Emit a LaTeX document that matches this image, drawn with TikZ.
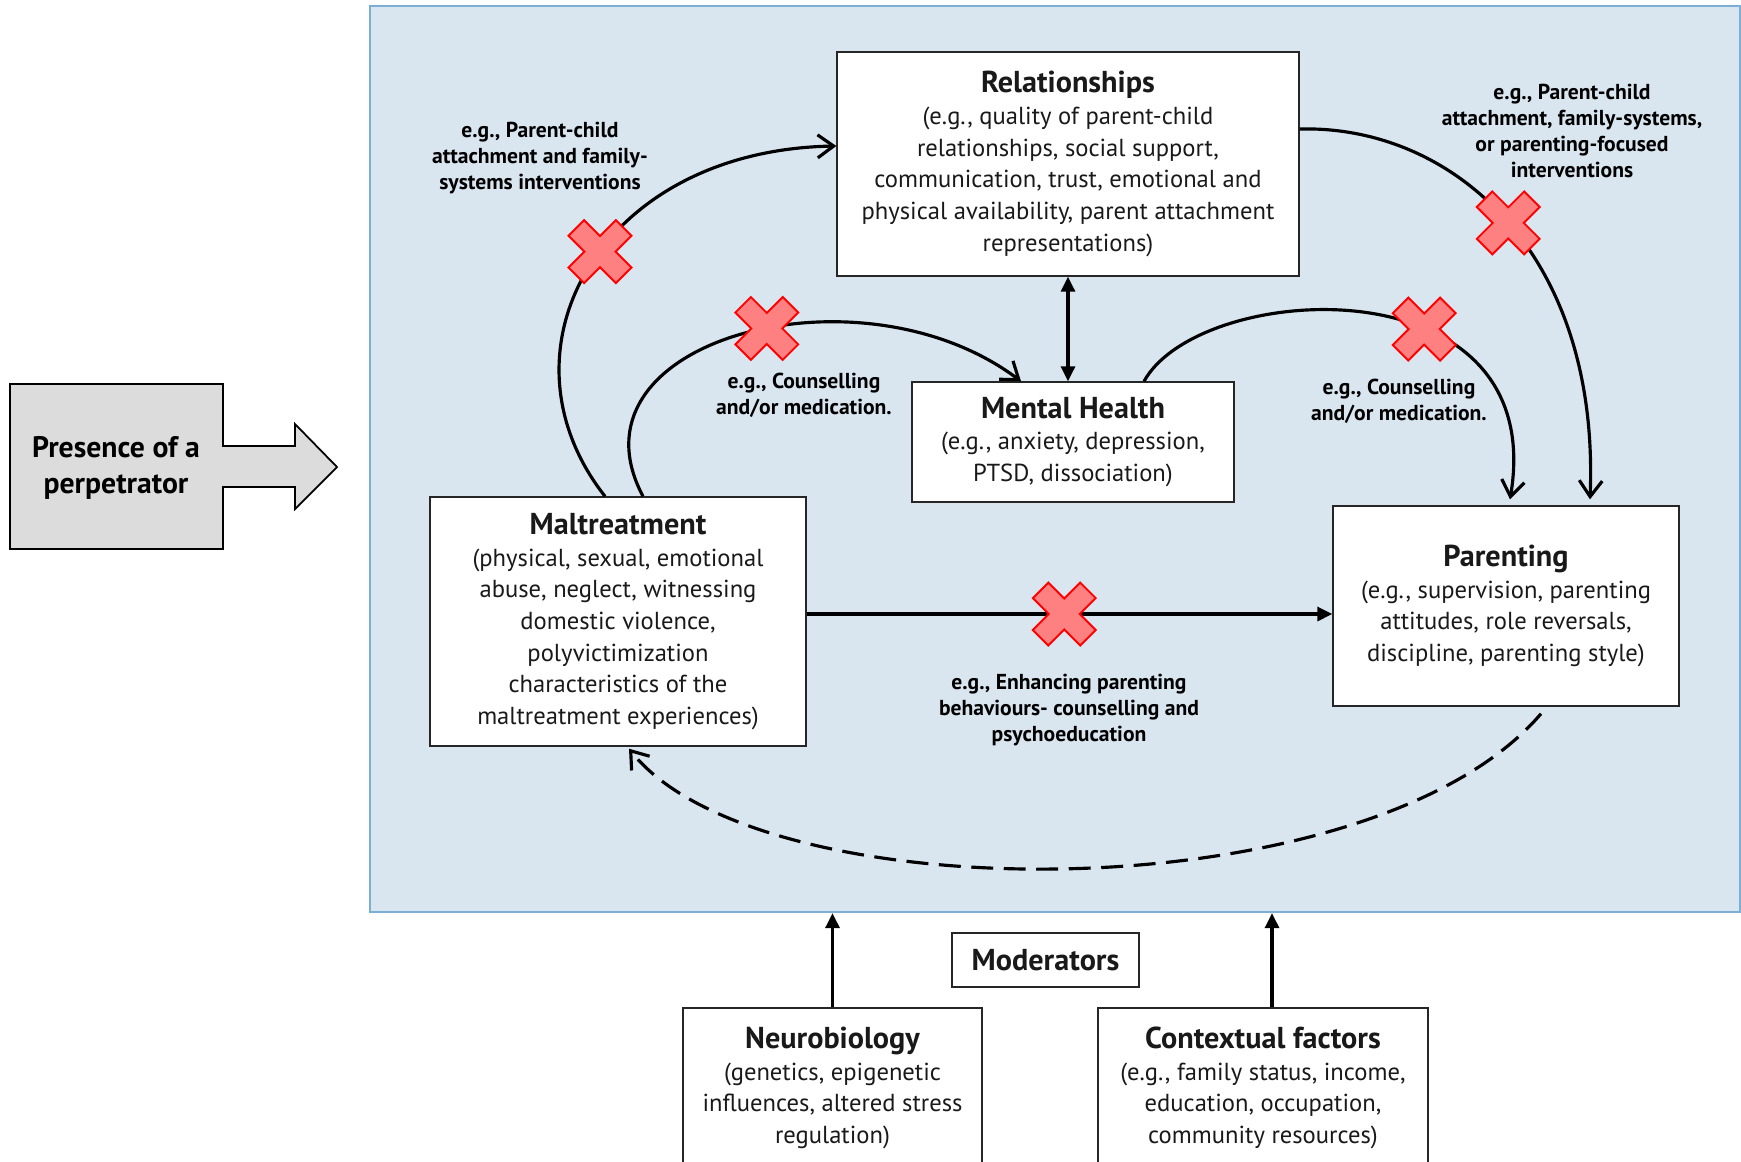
\documentclass[tikz,border=0pt]{standalone}
\usepackage{fontspec}
\setmainfont{PT Sans}
\usetikzlibrary{arrows.meta,calc}

\definecolor{panelfill}{HTML}{D9E6F0}
\definecolor{panelline}{HTML}{7BAFD4}
\definecolor{perpgray}{HTML}{DCDCDC}
\definecolor{xfill}{HTML}{FF8080}
\definecolor{xline}{HTML}{FF0000}

\def\bodyfont{\fontsize{14}{18}\selectfont}
\def\ttlfont{\fontsize{17.2}{18}\selectfont\bfseries}
\def\lblfont{\fontsize{12.3}{14.7}\selectfont\bfseries}
\def\ttl#1{{\ttlfont #1}}
\def\nogo#1{\draw[xmark,shift={(#1)},rotate=45] (11,11) -- (33.5,11) -- (33.5,-11) -- (11,-11) -- (11,-33.5) -- (-11,-33.5) -- (-11,-11) -- (-33.5,-11) -- (-33.5,11) -- (-11,11) -- (-11,33.5) -- (11,33.5) -- cycle;}

\begin{document}
\begin{tikzpicture}[x=0.02cm,y=-0.02cm,
    box/.style={draw=black!85, line width=0.8pt, fill=white, align=center,
        inner sep=0pt, font=\bodyfont, text=black!90},
    lbl/.style={align=center, font=\lblfont},
    flow/.style={line width=1.8pt, -{Straight Barb[length=0.32cm,width=0.46cm]}},
    push/.style={line width=1.8pt, -{Triangle[length=0.3cm,width=0.28cm]}},
    both/.style={line width=1.8pt, {Triangle[length=0.3cm,width=0.28cm]}-{Triangle[length=0.3cm,width=0.28cm]}},
    xmark/.style={draw=xline, fill=xfill, line width=1.1pt, line join=miter},
    ]
    \useasboundingbox (0,0) rectangle (1741,1161);
    \clip (0,0) rectangle (1741,1161);

    % background panel
    \node[draw=panelline, line width=1.4pt, fill=panelfill, inner sep=0pt,
        minimum width=27.4cm, minimum height=18.12cm] (panel) at (1055,459) {};

    % perpetrator arrow
    \draw[fill=perpgray, line width=1pt] (10,384) -- (223,384) -- (223,446) -- (295,446)
        -- (295,424) -- (337,467) -- (295,509) -- (295,487) -- (223,487) -- (223,549)
        -- (10,549) -- cycle;
    \node[align=center, font=\fontsize{16.9}{20.4}\selectfont\bfseries] (perp) at (116,468)
        {Presence of a\\perpetrator};

    % boxes
    \node[box, minimum width=9.24cm, minimum height=4.48cm] (rel) at (1068,164)
        {\ttl{Relationships}\\(e.g., quality of parent-child\\relationships, social support,\\communication, trust, emotional and\\physical availability, parent attachment\\representations)};
    \node[box, minimum width=6.44cm, minimum height=2.4cm] (mh) at (1073,442)
        {\ttl{Mental Health}\\(e.g., anxiety, depression,\\PTSD, dissociation)};
    \node[box, minimum width=7.52cm, minimum height=4.98cm] (mal) at (618,621.5)
        {\ttl{Maltreatment}\\(physical, sexual, emotional\\abuse, neglect, witnessing\\domestic violence,\\polyvictimization\\characteristics of the\\maltreatment experiences)};
    \node[box, minimum width=6.92cm, minimum height=4cm] (par) at (1506,606)
        {\ttl{Parenting}\\(e.g., supervision, parenting\\attitudes, role reversals,\\discipline, parenting style)};
    \node[box, minimum width=3.74cm, minimum height=1.08cm] (mod) at (1045.5,960)
        {\ttl{Moderators}};
    \node[box, minimum width=5.98cm, minimum height=3.2cm] (neu) at (832.5,1088)
        {\ttl{Neurobiology}\\(genetics, epigenetic\\influences, altered stress\\regulation)};
    \node[box, minimum width=6.6cm, minimum height=3.2cm] (con) at (1263,1088)
        {\ttl{Contextual factors}\\(e.g., family status, income,\\education, occupation,\\community resources)};

    % pathways
    \draw[flow] ($(mal.north)+(-13,0)$) .. controls (490,350) and (600,150) .. ($(rel.west)+(0,-18)$) coordinate[pos=0.54] (xa);
    \draw[flow] ($(mal.north)+(25,0)$) .. controls (560,340) and (860,260) .. ($(mh.north)+(-52,0)$) coordinate[pos=0.55] (xb);
    \draw[flow] ($(mh.north)+(71,0)$) .. controls (1200,280) and (1550,260) .. ($(par.north)+(4,-6)$) coordinate[pos=0.62] (xc);
    \draw[flow] ($(rel.east)+(0,-35)$) .. controls (1450,125) and (1600,250) .. ($(par.north)+(84,-6)$) coordinate[pos=0.51] (xd);
    \draw[push] (mal.east |- 0,614) -- (par.west |- 0,614) coordinate[pos=0.49] (xm);
    \draw[both] (rel.south) -- (rel.south |- mh.north);
    \draw[flow, dash pattern=on 12.5pt off 6pt] ($(par.south)+(35,7)$) .. controls (1370,914) and (760,914) .. ($(mal.south)+(11,2)$);

    % moderators
    \draw[push] (neu.north) -- (neu.north |- panel.south);
    \draw[push] ([xshift=0.18cm]con.north) -- ([xshift=0.18cm]con.north |- panel.south);

    % blocked pathways
    \nogo{xa}
    \nogo{xb}
    \nogo{xc}
    \nogo{xd}
    \nogo{xm}

    % interventions
    \node[lbl] (ia) at (540,158) {e.g., Parent-child\\attachment and family-\\systems interventions};
    \node[lbl] (ib) at (804,395) {e.g., Counselling\\and/or medication.};
    \node[lbl] (ic) at (1399,401) {e.g., Counselling\\and/or medication.};
    \node[lbl] (id) at (1572,131) {e.g., Parent-child\\attachment, family-systems,\\or parenting-focused\\interventions};
    \node[lbl] (im) at (1069,710) {e.g., Enhancing parenting\\behaviours- counselling and\\psychoeducation};
\end{tikzpicture}
\end{document}
